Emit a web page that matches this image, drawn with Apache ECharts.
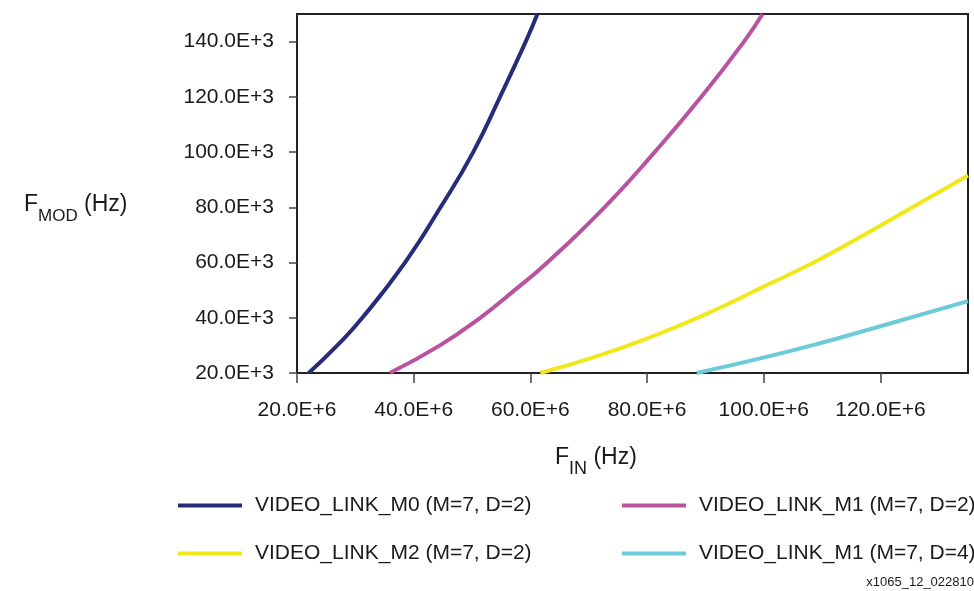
<!DOCTYPE html>
<html>
<head>
<meta charset="utf-8">
<script src="https://cdn.jsdelivr.net/npm/echarts@6/dist/echarts.min.js"></script>
<style>
  html, body { margin: 0; padding: 0; background: #fff; }
  #chart { width: 974px; height: 591px; }
</style>
</head>
<body>
<div id="chart"></div>
<script>
// 数据（读图估算）：F_IN 单位 E+6 Hz，F_MOD 单位 E+3 Hz
const seriesNames = [
  'VIDEO_LINK_M0 (M=7, D=2)',
  'VIDEO_LINK_M1 (M=7, D=2)',
  'VIDEO_LINK_M2 (M=7, D=2)',
  'VIDEO_LINK_M1 (M=7, D=4)'
];
const m0X = [22.0, 26.9, 31.2, 38.5, 44.6, 50.2, 54.8, 59.2, 61.2];
const m0Y = [20, 30, 40, 60, 80, 100, 120, 140, 150];
const m1X = [35.9, 44.5, 51.4, 57.3, 62.9, 72.7, 81.3, 89.3, 96.6, 99.8];
const m1Y = [20, 30, 40, 50, 60, 80, 100, 120, 140, 150];
const m2X = [61.7, 72.0, 81.1, 90.8, 100.0, 109.7, 118.8, 135.0];
const m2Y = [20, 26.5, 33.4, 42.0, 51.3, 61.3, 72.0, 91.5];
const m1d4X = [88.5, 99.4, 109.1, 118.8, 135.0];
const m1d4Y = [20, 25.3, 30.5, 36.2, 46.0];
const xTicks = [20, 40, 60, 80, 100, 120];   // E+6
const yTicks = [20, 40, 60, 80, 100, 120, 140]; // E+3
const colors = ['#262c78', '#b9539f', '#f1e81c', '#6dcad8'];

const FONT = 'Liberation Sans, Arial, sans-serif';
const TEXT = '#1a1a1a';

function pairs(xs, ys) {
  return xs.map((x, i) => [x * 1e6, ys[i] * 1e3]);
}

const chart = echarts.init(document.getElementById('chart'));

const lineSeries = [
  [m0X, m0Y], [m1X, m1Y], [m2X, m2Y], [m1d4X, m1d4Y]
].map((d, i) => ({
  name: seriesNames[i],
  type: 'line',
  data: pairs(d[0], d[1]),
  smooth: true,
  showSymbol: false,
  clip: true,
  lineStyle: {color: colors[i], width: 4},
  itemStyle: {color: colors[i]}
}));

const legendBase = {
  orient: 'vertical',
  top: 490,
  itemGap: 27,
  itemWidth: 64,
  itemHeight: 4,
  icon: 'rect',
  textStyle: {color: TEXT, fontSize: 21, fontFamily: FONT, padding: [0, 0, 0, 8]}
};

const option = {
  animation: false,
  backgroundColor: '#fff',
  grid: {
    left: 297, right: 6, top: 14, bottom: 218,
    show: true, borderColor: '#222', borderWidth: 2, backgroundColor: 'transparent'
  },
  legend: [
    Object.assign({left: 173, data: [seriesNames[0], seriesNames[2]]}, legendBase),
    Object.assign({left: 617, data: [seriesNames[1], seriesNames[3]]}, legendBase)
  ],
  xAxis: {
    type: 'value',
    min: 20e6,
    max: 135e6,
    interval: 20e6,
    axisLine: {show: true, lineStyle: {color: '#222', width: 2}},
    axisTick: {
      show: true, inside: false, length: 10, lineStyle: {color: '#444', width: 1.5},
      customValues: xTicks.map((v) => v * 1e6)
    },
    splitLine: {show: false},
    axisLabel: {
      color: TEXT, fontSize: 21, fontFamily: FONT, margin: 27,
      customValues: xTicks.map((v) => v * 1e6),
      formatter: (v) => (v / 1e6).toFixed(1) + 'E+6'
    }
  },
  yAxis: {
    type: 'value',
    min: 20e3,
    max: 150e3,
    interval: 20e3,
    axisLine: {show: true, lineStyle: {color: '#222', width: 2}},
    axisTick: {
      show: true, inside: false, length: 8, lineStyle: {color: '#444', width: 1.5},
      customValues: yTicks.map((v) => v * 1e3)
    },
    splitLine: {show: false},
    axisLabel: {
      color: TEXT, fontSize: 21, fontFamily: FONT, margin: 23,
      customValues: yTicks.map((v) => v * 1e3),
      formatter: (v) => (v / 1e3).toFixed(1) + 'E+3'
    }
  },
  graphic: [
    {
      type: 'text', left: 24, top: 193,
      style: {
        text: '{a|F}{b|MOD}{a| (Hz)}',
        rich: {
          a: {fontSize: 23, fontFamily: FONT, fill: TEXT, lineHeight: 32, verticalAlign: 'top'},
          b: {fontSize: 17, fontFamily: FONT, fill: TEXT, lineHeight: 32, verticalAlign: 'bottom'}
        }
      }
    },
    {
      type: 'text', left: 555, top: 446,
      style: {
        text: '{a|F}{b|IN}{a| (Hz)}',
        rich: {
          a: {fontSize: 23, fontFamily: FONT, fill: TEXT, lineHeight: 32, verticalAlign: 'top'},
          b: {fontSize: 18, fontFamily: FONT, fill: TEXT, lineHeight: 32, verticalAlign: 'bottom'}
        }
      }
    },
    {
      type: 'text', right: 0, top: 576,
      style: {text: 'x1065_12_022810', fontSize: 13, fontFamily: FONT, fill: TEXT}
    }
  ],
  series: lineSeries
};

chart.setOption(option);
</script>
</body>
</html>
